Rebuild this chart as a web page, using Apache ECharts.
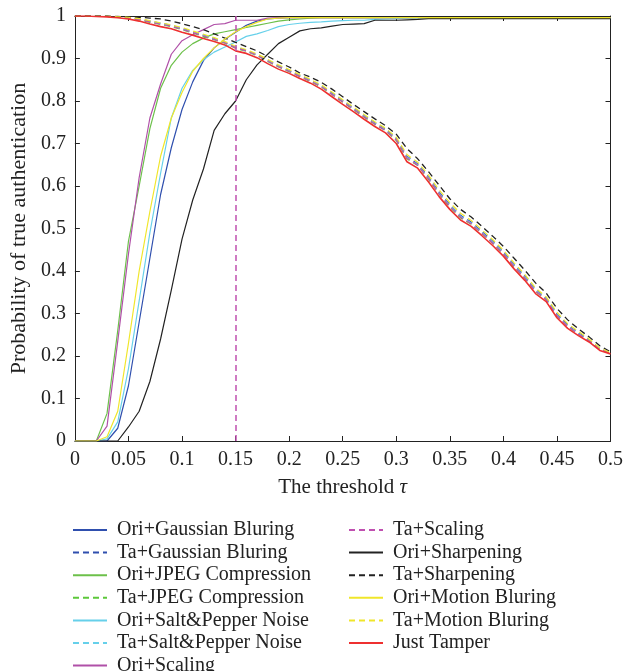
<!DOCTYPE html>
<html>
<head>
<meta charset="utf-8">
<script src="https://cdn.jsdelivr.net/npm/echarts@6/dist/echarts.min.js"></script>
<style>
html,body{margin:0;padding:0;background:#fff;}
#chart{width:626px;height:671px;}
</style>
</head>
<body>
<div id="chart"></div>
<script>
const taus = [0,0.01,0.02,0.03,0.04,0.05,0.06,0.07,0.08,0.09,0.1,0.11,0.12,0.13,0.14,0.15,0.16,0.17,0.18,0.19,0.2,0.21,0.22,0.23,0.24,0.25,0.26,0.27,0.28,0.29,0.3,0.31,0.32,0.33,0.34,0.35,0.36,0.37,0.38,0.39,0.4,0.41,0.42,0.43,0.44,0.45,0.46,0.47,0.48,0.49,0.5];
const markerTau = 0.15;

const oriGaussian = [0,0,0,0,0.03,0.13,0.28,0.43,0.58,0.69, 0.78,0.845,0.895,0.925,0.945,0.962,0.978,0.988,0.993,0.995, 0.996,0.996,0.996,0.996,0.996,0.996,0.996,0.996,0.996,0.996, 0.996,0.996,0.996,0.996,0.996,0.996,0.996,0.996,0.996,0.996, 0.996,0.996,0.996,0.996,0.996,0.996,0.996,0.996,0.996,0.996, 0.996];
const taGaussian = [1,1,1,0.999,0.998,0.996,0.993,0.988,0.983,0.978, 0.971,0.963,0.955,0.947,0.938,0.927,0.919,0.909,0.896,0.883, 0.872,0.860,0.849,0.836,0.819,0.801,0.784,0.766,0.749,0.734, 0.712,0.670,0.652,0.622,0.586,0.556,0.531,0.515,0.493,0.470, 0.445,0.415,0.388,0.356,0.336,0.299,0.273,0.255,0.238,0.217, 0.207];
const oriJPEG = [0,0,0,0.065,0.26,0.47,0.60,0.735,0.83,0.884, 0.915,0.935,0.948,0.958,0.963,0.968,0.973,0.978,0.983,0.988, 0.991,0.993,0.995,0.996,0.996,0.996,0.996,0.996,0.996,0.996, 0.996,0.996,0.996,0.996,0.996,0.996,0.996,0.996,0.996,0.996, 0.996,0.996,0.996,0.996,0.996,0.996,0.996,0.996,0.996,0.996, 0.996];
const taJPEG = [1,1,1,0.999,0.997,0.995,0.991,0.985,0.980,0.975, 0.968,0.960,0.952,0.944,0.936,0.924,0.917,0.907,0.893,0.880, 0.869,0.857,0.846,0.833,0.815,0.797,0.780,0.762,0.745,0.730, 0.707,0.664,0.648,0.616,0.581,0.550,0.525,0.510,0.488,0.465, 0.440,0.410,0.383,0.352,0.332,0.294,0.269,0.251,0.236,0.215, 0.206];
const oriSaltPepper = [0,0,0,0.005,0.045,0.17,0.33,0.49,0.63,0.76, 0.83,0.872,0.897,0.915,0.927,0.939,0.952,0.958,0.966,0.975, 0.98,0.983,0.985,0.986,0.988,0.989,0.99,0.99,0.992,0.993, 0.994,0.995,0.995,0.995,0.995,0.995,0.995,0.995,0.995,0.995, 0.995,0.995,0.995,0.995,0.995,0.995,0.995,0.995,0.995,0.995, 0.995];
const taSaltPepper = [1,1,1,0.999,0.998,0.996,0.992,0.987,0.982,0.977, 0.970,0.962,0.954,0.946,0.938,0.926,0.918,0.908,0.895,0.882, 0.871,0.859,0.848,0.835,0.817,0.800,0.782,0.765,0.747,0.732, 0.710,0.668,0.650,0.620,0.584,0.554,0.529,0.513,0.491,0.468, 0.443,0.413,0.386,0.355,0.335,0.297,0.271,0.253,0.237,0.216, 0.206];
const oriScaling = [0,0,0,0.035,0.235,0.44,0.62,0.76,0.84,0.91, 0.942,0.956,0.968,0.98,0.982,0.99,0.99,0.99,0.995,0.996, 0.996,0.996,0.996,0.996,0.996,0.996,0.996,0.996,0.996,0.996, 0.996,0.996,0.996,0.996,0.996,0.996,0.996,0.996,0.996,0.996, 0.996,0.996,0.996,0.996,0.996,0.996,0.996,0.996,0.996,0.996, 0.996];
const taScaling = [1,1,1,0.999,0.997,0.995,0.992,0.986,0.981,0.976, 0.969,0.961,0.953,0.945,0.937,0.925,0.918,0.908,0.894,0.881, 0.870,0.858,0.847,0.834,0.816,0.798,0.781,0.763,0.746,0.731, 0.709,0.666,0.649,0.618,0.582,0.552,0.527,0.511,0.489,0.466, 0.441,0.411,0.384,0.353,0.333,0.295,0.270,0.252,0.236,0.216, 0.206];
const oriSharpening = [0,0,0,0,0,0.033,0.07,0.14,0.24,0.355, 0.475,0.567,0.64,0.731,0.77,0.80,0.85,0.885,0.91,0.935, 0.95,0.965,0.97,0.972,0.976,0.98,0.981,0.982,0.99,0.99, 0.99,0.991,0.992,0.994,0.994,0.994,0.994,0.994,0.994,0.994, 0.994,0.994,0.994,0.994,0.994,0.994,0.994,0.994,0.994,0.994, 0.994];
const taSharpening = [1,1,1,1,0.999,0.998,0.997,0.995,0.993,0.988, 0.982,0.975,0.968,0.958,0.948,0.938,0.928,0.918,0.905,0.892, 0.880,0.866,0.856,0.844,0.828,0.810,0.792,0.775,0.758,0.742, 0.722,0.688,0.664,0.634,0.602,0.570,0.545,0.527,0.505,0.482, 0.458,0.430,0.402,0.372,0.348,0.312,0.285,0.264,0.245,0.224, 0.210];
const oriMotion = [0,0,0,0.01,0.07,0.23,0.40,0.54,0.67,0.76, 0.82,0.87,0.90,0.925,0.946,0.963,0.975,0.985,0.993,0.995, 0.996,0.996,0.996,0.996,0.996,0.996,0.996,0.996,0.996,0.996, 0.996,0.996,0.996,0.996,0.996,0.996,0.996,0.996,0.996,0.996, 0.996,0.996,0.996,0.996,0.996,0.996,0.996,0.996,0.996,0.996, 0.996];
const taMotion = [1,1,1,1,0.998,0.997,0.994,0.989,0.984,0.979, 0.973,0.965,0.957,0.949,0.940,0.929,0.921,0.911,0.898,0.885, 0.874,0.862,0.851,0.838,0.821,0.803,0.786,0.768,0.751,0.736, 0.715,0.674,0.656,0.626,0.591,0.561,0.536,0.519,0.497,0.474, 0.449,0.419,0.392,0.360,0.339,0.303,0.276,0.258,0.240,0.219, 0.208];
const justTamper = [1,1,0.999,0.998,0.996,0.993,0.988,0.981,0.975,0.970, 0.962,0.955,0.947,0.940,0.932,0.918,0.912,0.902,0.888,0.875, 0.865,0.853,0.842,0.828,0.810,0.792,0.775,0.757,0.740,0.725, 0.700,0.657,0.642,0.610,0.575,0.545,0.520,0.505,0.483,0.460, 0.435,0.405,0.378,0.347,0.328,0.290,0.265,0.248,0.233,0.213, 0.205];

const seriesNames = ['Ori+Gaussian Bluring','Ta+Gaussian Bluring','Ori+JPEG Compression','Ta+JPEG Compression','Ori+Salt&Pepper Noise','Ta+Salt&Pepper Noise','Ori+Scaling','Ta+Scaling','Ori+Sharpening','Ta+Sharpening','Ori+Motion Bluring','Ta+Motion Bluring','Just Tamper'];
const seriesValues = [oriGaussian,taGaussian,oriJPEG,taJPEG,oriSaltPepper,taSaltPepper,oriScaling,taScaling,oriSharpening,taSharpening,oriMotion,taMotion,justTamper];

const styles = [
  {c:'#2f4fae', d:false, w:1.2},
  {c:'#2f4fae', d:true, w:1.2},
  {c:'#6cc04a', d:false, w:1.2},
  {c:'#5cc83a', d:true, w:1.2},
  {c:'#66d0ea', d:false, w:1.2},
  {c:'#66d0ea', d:true, w:1.2},
  {c:'#b050a8', d:false, w:1.2},
  {c:'#c050b0', d:true, w:1.2},
  {c:'#222222', d:false, w:1.2},
  {c:'#222222', d:true, w:1.3},
  {c:'#f0e62a', d:false, w:1.2},
  {c:'#f0e62a', d:true, w:1.2},
  {c:'#ee3030', d:false, w:1.6}
];

const FONT = '"Liberation Serif", "DejaVu Serif", serif';
const fmt = v => String(+(+v).toFixed(2));

const series = seriesNames.map((name, i) => {
  const s = {
    name: name,
    type: 'line',
    data: taus.map((t, k) => [t, seriesValues[i][k]]),
    symbol: 'none',
    showSymbol: false,
    silent: true,
    animation: false,
    lineStyle: {color: styles[i].c, width: styles[i].w, type: styles[i].d ? [6,4] : 'solid'},
    itemStyle: {color: styles[i].c}
  };
  if (name === 'Ta+Scaling') {
    s.markLine = {
      silent: true, symbol: ['none','none'], animation: false,
      label: {show: false},
      lineStyle: {color: '#c050b0', type: [6,4], width: 1.5},
      data: [{xAxis: markerTau}]
    };
  }
  return s;
});

const chart = echarts.init(document.getElementById('chart'), null, {renderer: 'canvas'});
const axisLine = {show: true, onZero: false, lineStyle: {color: '#222', width: 1}};
const axisTick = {show: true, inside: true, length: 5, lineStyle: {color: '#222', width: 1}};
const legendCommon = {
  orient: 'vertical', top: 515, height: 200,
  itemWidth: 34, itemHeight: 14, itemGap: 2.6, selectedMode: false,
  itemStyle: {opacity: 0},
  textStyle: {fontSize: 20, lineHeight: 20, color: '#222', fontFamily: FONT, padding: [0,0,0,5]}
};
chart.setOption({
  backgroundColor: '#fff',
  animation: false,
  textStyle: {fontFamily: FONT},
  grid: {left: 73, right: 14, top: 16, height: 425, containLabel: false},
  xAxis: [
    {type: 'value', min: 0, max: 0.5, interval: 0.05, position: 'bottom',
     axisLine: axisLine, axisTick: axisTick, splitLine: {show: false},
     axisLabel: {margin: 9, color: '#222', fontSize: 20, fontFamily: FONT, formatter: fmt},
     name: 'The threshold {i|τ}', nameLocation: 'middle', nameGap: 36,
     nameTextStyle: {color: '#222', fontSize: 21, fontFamily: FONT,
       rich: {i: {fontStyle: 'italic', fontSize: 21, fontFamily: FONT, color: '#222'}}}},
    {type: 'value', min: 0, max: 0.5, interval: 0.05, position: 'top',
     axisLine: axisLine, axisTick: axisTick, splitLine: {show: false}, axisLabel: {show: false}}
  ],
  yAxis: [
    {type: 'value', min: 0, max: 1, interval: 0.1, position: 'left',
     axisLine: axisLine, axisTick: axisTick, splitLine: {show: false},
     axisLabel: {margin: 9, color: '#222', fontSize: 20, fontFamily: FONT, formatter: fmt},
     name: 'Probability of true authentication', nameLocation: 'middle', nameGap: 43,
     nameTextStyle: {color: '#222', fontSize: 22, fontFamily: FONT}},
    {type: 'value', min: 0, max: 1, interval: 0.1, position: 'right',
     axisLine: axisLine, axisTick: axisTick, splitLine: {show: false}, axisLabel: {show: false}}
  ],
  legend: [
    Object.assign({}, legendCommon, {data: seriesNames.slice(0,7), left: 67}),
    Object.assign({}, legendCommon, {data: seriesNames.slice(7), left: 343})
  ],
  series: series
});
</script>
</body>
</html>
